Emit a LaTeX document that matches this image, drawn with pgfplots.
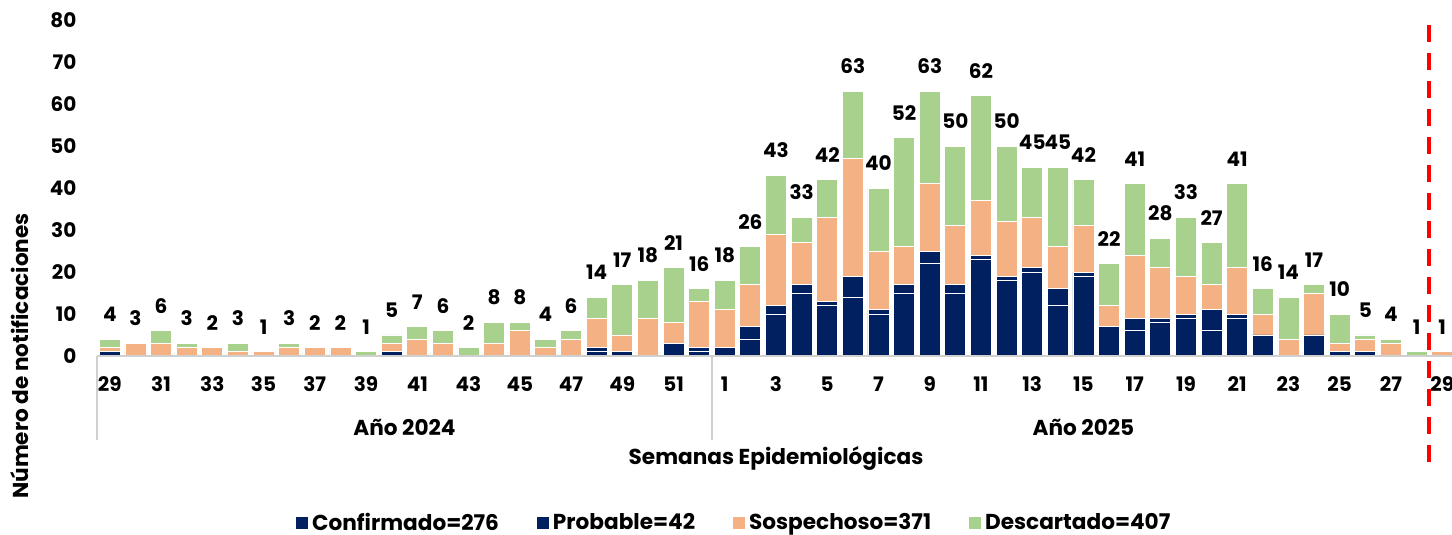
\documentclass[border=0pt]{standalone}
\usepackage{fontspec}
\setmainfont{Poppins}
\usepackage{pgfplots}
\pgfplotsset{compat=1.18}
\usepackage{pgfplotstable}
\definecolor{navy}{HTML}{002060}
\definecolor{peach}{HTML}{F4B183}
\definecolor{lgreen}{HTML}{A9D18E}
\definecolor{sepgray}{HTML}{D0D0D0}

\pgfplotstableread{
x conf prob sosp desc tot
0 1 0 1 2 4
1 0 0 3 0 3
2 0 0 3 3 6
3 0 0 2 1 3
4 0 0 2 0 2
5 0 0 1 2 3
6 0 0 1 0 1
7 0 0 2 1 3
8 0 0 2 0 2
9 0 0 2 0 2
10 0 0 0 1 1
11 1 0 2 2 5
12 0 0 4 3 7
13 0 0 3 3 6
14 0 0 0 2 2
15 0 0 3 5 8
16 0 0 6 2 8
17 0 0 2 2 4
18 0 0 4 2 6
19 1 1 7 5 14
20 1 0 4 12 17
21 0 0 9 9 18
22 3 0 5 13 21
23 1 1 11 3 16
24 2 0 9 7 18
25 4 3 10 9 26
26 10 2 17 14 43
27 15 2 10 6 33
28 12 1 20 9 42
29 14 5 28 16 63
30 10 1 14 15 40
31 15 2 9 26 52
32 22 3 16 22 63
33 15 2 14 19 50
34 23 1 13 25 62
35 18 1 13 18 50
36 20 1 12 12 45
37 12 4 10 19 45
38 19 1 11 11 42
39 7 0 5 10 22
40 6 3 15 17 41
41 8 1 12 7 28
42 9 1 9 14 33
43 6 5 6 10 27
44 9 1 11 20 41
45 5 0 5 6 16
46 0 0 4 10 14
47 5 0 10 2 17
48 1 0 2 7 10
49 1 0 3 1 5
50 0 0 3 1 4
51 0 0 0 1 1
52 0 0 1 0 1
}\datatable

\newcommand{\lblfont}{\fontsize{10}{12}\selectfont\bfseries}
\newcommand{\txtfont}{\fontsize{10.8}{13}\selectfont\bfseries}

\pgfplotsset{
  common/.style={
    at={(0,0)}, anchor=south west,
    width=679pt, height=168pt, scale only axis,
    xmin=-0.5, xmax=52.5, ymin=0, ymax=80,
    clip=false,
    /pgf/number format/assume math mode=true,
  }
}

\begin{document}
\begin{tikzpicture}
\begin{axis}[
  common,
  ybar stacked, bar width=0.82,
  axis on top,
  axis x line*=bottom, axis y line*=left,
  x axis line style={draw=sepgray, line width=1pt, -},
  y axis line style={draw=none},
  xtick={0,2,...,52},
  xticklabels={29,31,33,35,37,39,41,43,45,47,49,51,1,3,5,7,9,11,13,15,17,19,21,23,25,27,29},
  ytick={0,10,...,80},
  major tick length=0pt,
  tick label style={font=\lblfont},
  yticklabel style={xshift=-6.8pt},
  xticklabel style={yshift=-6.7pt},
  xlabel={Semanas Epidemiológicas},
  xlabel style={at={(axis description cs:0.5,-0.3036)}, anchor=center, font=\txtfont},
  ylabel={Número de notificaciones},
  ylabel style={at={(axis description cs:-0.0567,0)}, anchor=center, font=\txtfont},
  legend style={at={(axis description cs:0.47,-0.497)}, anchor=center, draw=none, fill=none,
    font=\txtfont, legend columns=4,
    /tikz/every even column/.append style={column sep=17pt},
    /tikz/every odd column/.append style={column sep=0pt}},
  legend image code/.code={\fill[#1,draw=none] (0pt,-3.2pt) rectangle (6pt,2.8pt);},
]
\addplot[fill=navy, draw=white, line width=0.4pt] table[x=x,y=conf] {\datatable};
\addlegendentry{Confirmado=276}
\addplot[fill=navy, draw=white, line width=0.4pt] table[x=x,y=prob] {\datatable};
\addlegendentry{Probable=42}
\addplot[fill=peach, draw=white, line width=0.4pt] table[x=x,y=sosp] {\datatable};
\addlegendentry{Sospechoso=371}
\addplot[fill=lgreen, draw=white, line width=0.4pt] table[x=x,y=desc] {\datatable};
\addlegendentry{Descartado=407}

\draw[sepgray, line width=0.8pt] (axis cs:-0.5,0) -- (axis cs:-0.5,-20);
\draw[sepgray, line width=0.8pt] (axis cs:23.5,0) -- (axis cs:23.5,-20);
\node[font=\txtfont] at (axis cs:11.5,-17.0) {Año 2024};
\node[font=\txtfont] at (axis cs:38,-17.0) {Año 2025};
\draw[color={rgb,255:red,255;green,0;blue,0}, line width=2pt, dash pattern=on 8.25pt off 5.75pt]
  (axis cs:51.5,78.8) -- (axis cs:51.5,-25.5);
\end{axis}
\begin{axis}[common, hide axis]
\addplot[draw=none, mark=none, point meta=explicit, nodes near coords,
  every node near coord/.append style={text=black, font=\lblfont, anchor=south, yshift=5.2pt}]
  table[x=x,y=tot,meta=tot] {\datatable};
\end{axis}
\pgfresetboundingbox
\path[use as bounding box] (-48.5pt,-89.5pt) rectangle (677.5pt,178pt);
\end{tikzpicture}
\end{document}
